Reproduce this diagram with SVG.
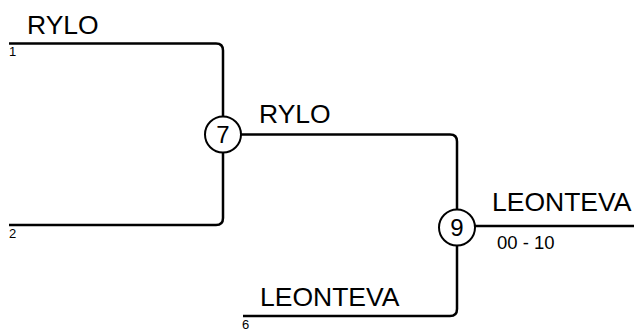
<svg xmlns="http://www.w3.org/2000/svg" width="639" height="329" viewBox="0 0 639 329">
<style>
.ln{fill:none;stroke:#000;stroke-width:2.5}
.nd{fill:#fff;stroke:#000;stroke-width:2}
.nm{font-family:"Liberation Sans",Arial,sans-serif;font-size:26.5px;fill:#000}
.sm{font-family:"Liberation Sans",Arial,sans-serif;font-size:13px;fill:#000}
.sc{font-family:"Liberation Sans",Arial,sans-serif;font-size:18.5px;fill:#000}
.cn{font-family:"Liberation Sans",Arial,sans-serif;font-size:24px;fill:#000;text-anchor:middle}
</style>
<rect width="639" height="329" fill="#fff"/>
<g id="connectors">
<path class="ln" d="M9,43.5 H216 Q223,43.5 223,50.5 V116"/>
<path class="ln" d="M9,225 H216 Q223,225 223,218 V153"/>
<path class="ln" d="M241,134.5 H450 Q457,134.5 457,141.5 V209"/>
<path class="ln" d="M243,316 H450 Q457,316 457,309 V246"/>
<path class="ln" d="M475,226 H634"/>
</g>
<g id="entry1">
<text class="nm" x="27" y="34">RYLO</text>
<text class="sm" x="9" y="56">1</text>
</g>
<g id="entry2">
<text class="sm" x="9" y="238">2</text>
</g>
<g id="entry6">
<text class="nm" x="260" y="306">LEONTEVA</text>
<text class="sm" x="242" y="329">6</text>
</g>
<g id="node7">
<circle class="nd" cx="223" cy="134.5" r="18"/>
<text class="cn" x="223" y="143">7</text>
<text class="nm" x="259" y="123">RYLO</text>
</g>
<g id="node9">
<circle class="nd" cx="457" cy="227.5" r="18"/>
<text class="cn" x="457" y="236">9</text>
<text class="nm" x="492" y="211">LEONTEVA</text>
<text class="sc" x="497" y="249">00 - 10</text>
</g>
</svg>
